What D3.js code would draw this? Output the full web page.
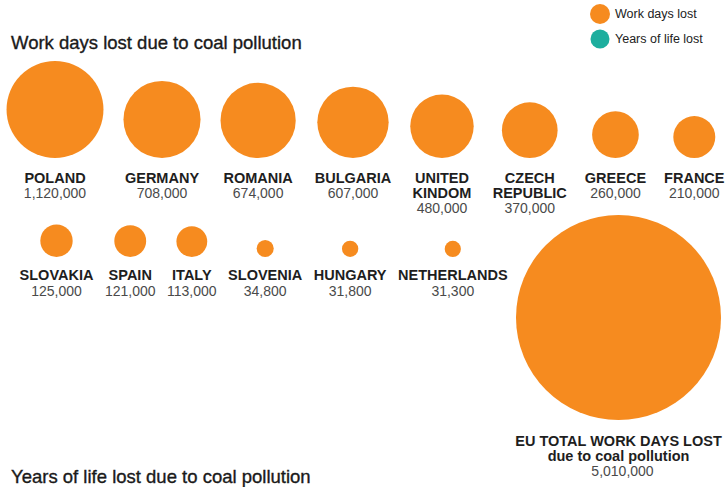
<!DOCTYPE html>
<html>
<head>
<meta charset="utf-8">
<script src="https://cdn.jsdelivr.net/npm/d3@7"></script>
<style>
    html, body { margin: 0; padding: 0; background: #fff; }
    svg { display: block; font-family: "Liberation Sans", Arial, Helvetica, sans-serif; }
    .name { font-weight: 700; font-size: 14.5px; fill: #1e1e1e; }
    .value { font-size: 14px; fill: #4a4a4a; }
    .title { font-size: 18.5px; fill: #1a1a1a; stroke: #1a1a1a; stroke-width: 0.35px; }
    .legend { font-size: 12.5px; fill: #222; }
</style>
</head>
<body>
<svg id="chart" width="725" height="487"></svg>
<script>
// country names, "\n" splits a label onto two lines
const countries = [
    "POLAND", "GERMANY", "ROMANIA", "BULGARIA", "UNITED\nKINDOM", "CZECH\nREPUBLIC", "GREECE", "FRANCE",
    "SLOVAKIA", "SPAIN", "ITALY", "SLOVENIA", "HUNGARY", "NETHERLANDS"
]
const workDaysLost = [
    1120000, 708000, 674000, 607000, 480000, 370000, 260000, 210000,
    125000, 121000, 113000, 34800, 31800, 31300
]
const rowOf = [0, 0, 0, 0, 0, 0, 0, 0, 1, 1, 1, 1, 1, 1]

const euTotal = 5010000
const euLabel = ["EU TOTAL WORK DAYS LOST", "due to coal pollution"]

const legendLabels = ["Work days lost", "Years of life lost"]
const legendColors = ["#F68B1F", "#1DAE9E"]

const titles = ["Work days lost due to coal pollution", "Years of life lost due to coal pollution"]

const ORANGE = legendColors[0]
const fmt = d3.format(",")

// bubble area follows the value
const r = d3.scaleSqrt().domain([0, euTotal]).range([0, 102.5])

// row layout: circles sit on a common bottom line, labels below
const rows = [
    {bottom: 158, startX: 55, circlePad: 20, labelPad: 18, nameDy: 25, lineDy: 15, valueDy: 15},
    {bottom: 257, startX: 56.5, circlePad: 20, labelPad: 11.5, nameDy: 23, lineDy: 15, valueDy: 16}
]

const svg = d3.select("#chart")

svg.selectAll("text.title")
    .data(titles)
    .enter()
    .append("text")
    .attr("class", "title")
    .attr("x", 11)
    .attr("y", (d, i) => i === 0 ? 49 : 483)
    .text(d => d)

// legend
const legend = svg.append("g")
legend.selectAll("circle")
    .data(legendColors)
    .enter()
    .append("circle")
    .attr("cx", 600)
    .attr("cy", (d, i) => 14 + i * 25)
    .attr("r", (d, i) => i === 0 ? 10 : 9.5)
    .attr("fill", d => d)
legend.selectAll("text")
    .data(legendLabels)
    .enter()
    .append("text")
    .attr("class", "legend")
    .attr("x", 615)
    .attr("y", (d, i) => 18 + i * 25)
    .text(d => d)

const items = countries.map((name, i) => ({
    lines: name.split("\n"),
    value: workDaysLost[i],
    row: rowOf[i]
}))

const groups = svg.selectAll("g.country")
    .data(items)
    .enter()
    .append("g")
    .attr("class", "country")

groups.append("circle")
    .attr("r", d => r(d.value))
    .attr("fill", ORANGE)

groups.each(function (d) {
    const g = d3.select(this)
    const cfg = rows[d.row]
    let y = cfg.nameDy
    d.lines.forEach((line, k) => {
        g.append("text")
            .attr("class", "name")
            .attr("text-anchor", "middle")
            .attr("y", y)
            .text(line)
        if (k < d.lines.length - 1) y += cfg.lineDy
    })
    g.append("text")
        .attr("class", "value")
        .attr("text-anchor", "middle")
        .attr("y", y + cfg.valueDy)
        .text(fmt(d.value))
    // width the item needs in its row
    let labelW = 0
    g.selectAll("text").each(function () {
        labelW = Math.max(labelW, this.getComputedTextLength())
    })
    d.slot = Math.max(2 * r(d.value) + cfg.circlePad, labelW + cfg.labelPad)
})

// place items left to right, each row on its own
rows.forEach((cfg, ri) => {
    let prev = null
    items.filter(d => d.row === ri).forEach(d => {
        d.x = prev === null ? cfg.startX : prev.x + (prev.slot + d.slot) / 2
        prev = d
    })
})

groups.attr("transform", d => `translate(${d.x},${rows[d.row].bottom})`)
groups.select("circle").attr("cy", d => -r(d.value))

// EU total bubble
const eu = svg.append("g").attr("transform", "translate(618.5,317.5)")
eu.append("circle")
    .attr("r", r(euTotal))
    .attr("fill", ORANGE)
eu.selectAll("text.name")
    .data(euLabel)
    .enter()
    .append("text")
    .attr("class", "name")
    .attr("text-anchor", "middle")
    .attr("y", (d, i) => 128 + i * 15)
    .text(d => d)
eu.append("text")
    .attr("class", "value")
    .attr("text-anchor", "middle")
    .attr("x", 4)
    .attr("y", 158)
    .text(fmt(euTotal))
</script>
</body>
</html>
